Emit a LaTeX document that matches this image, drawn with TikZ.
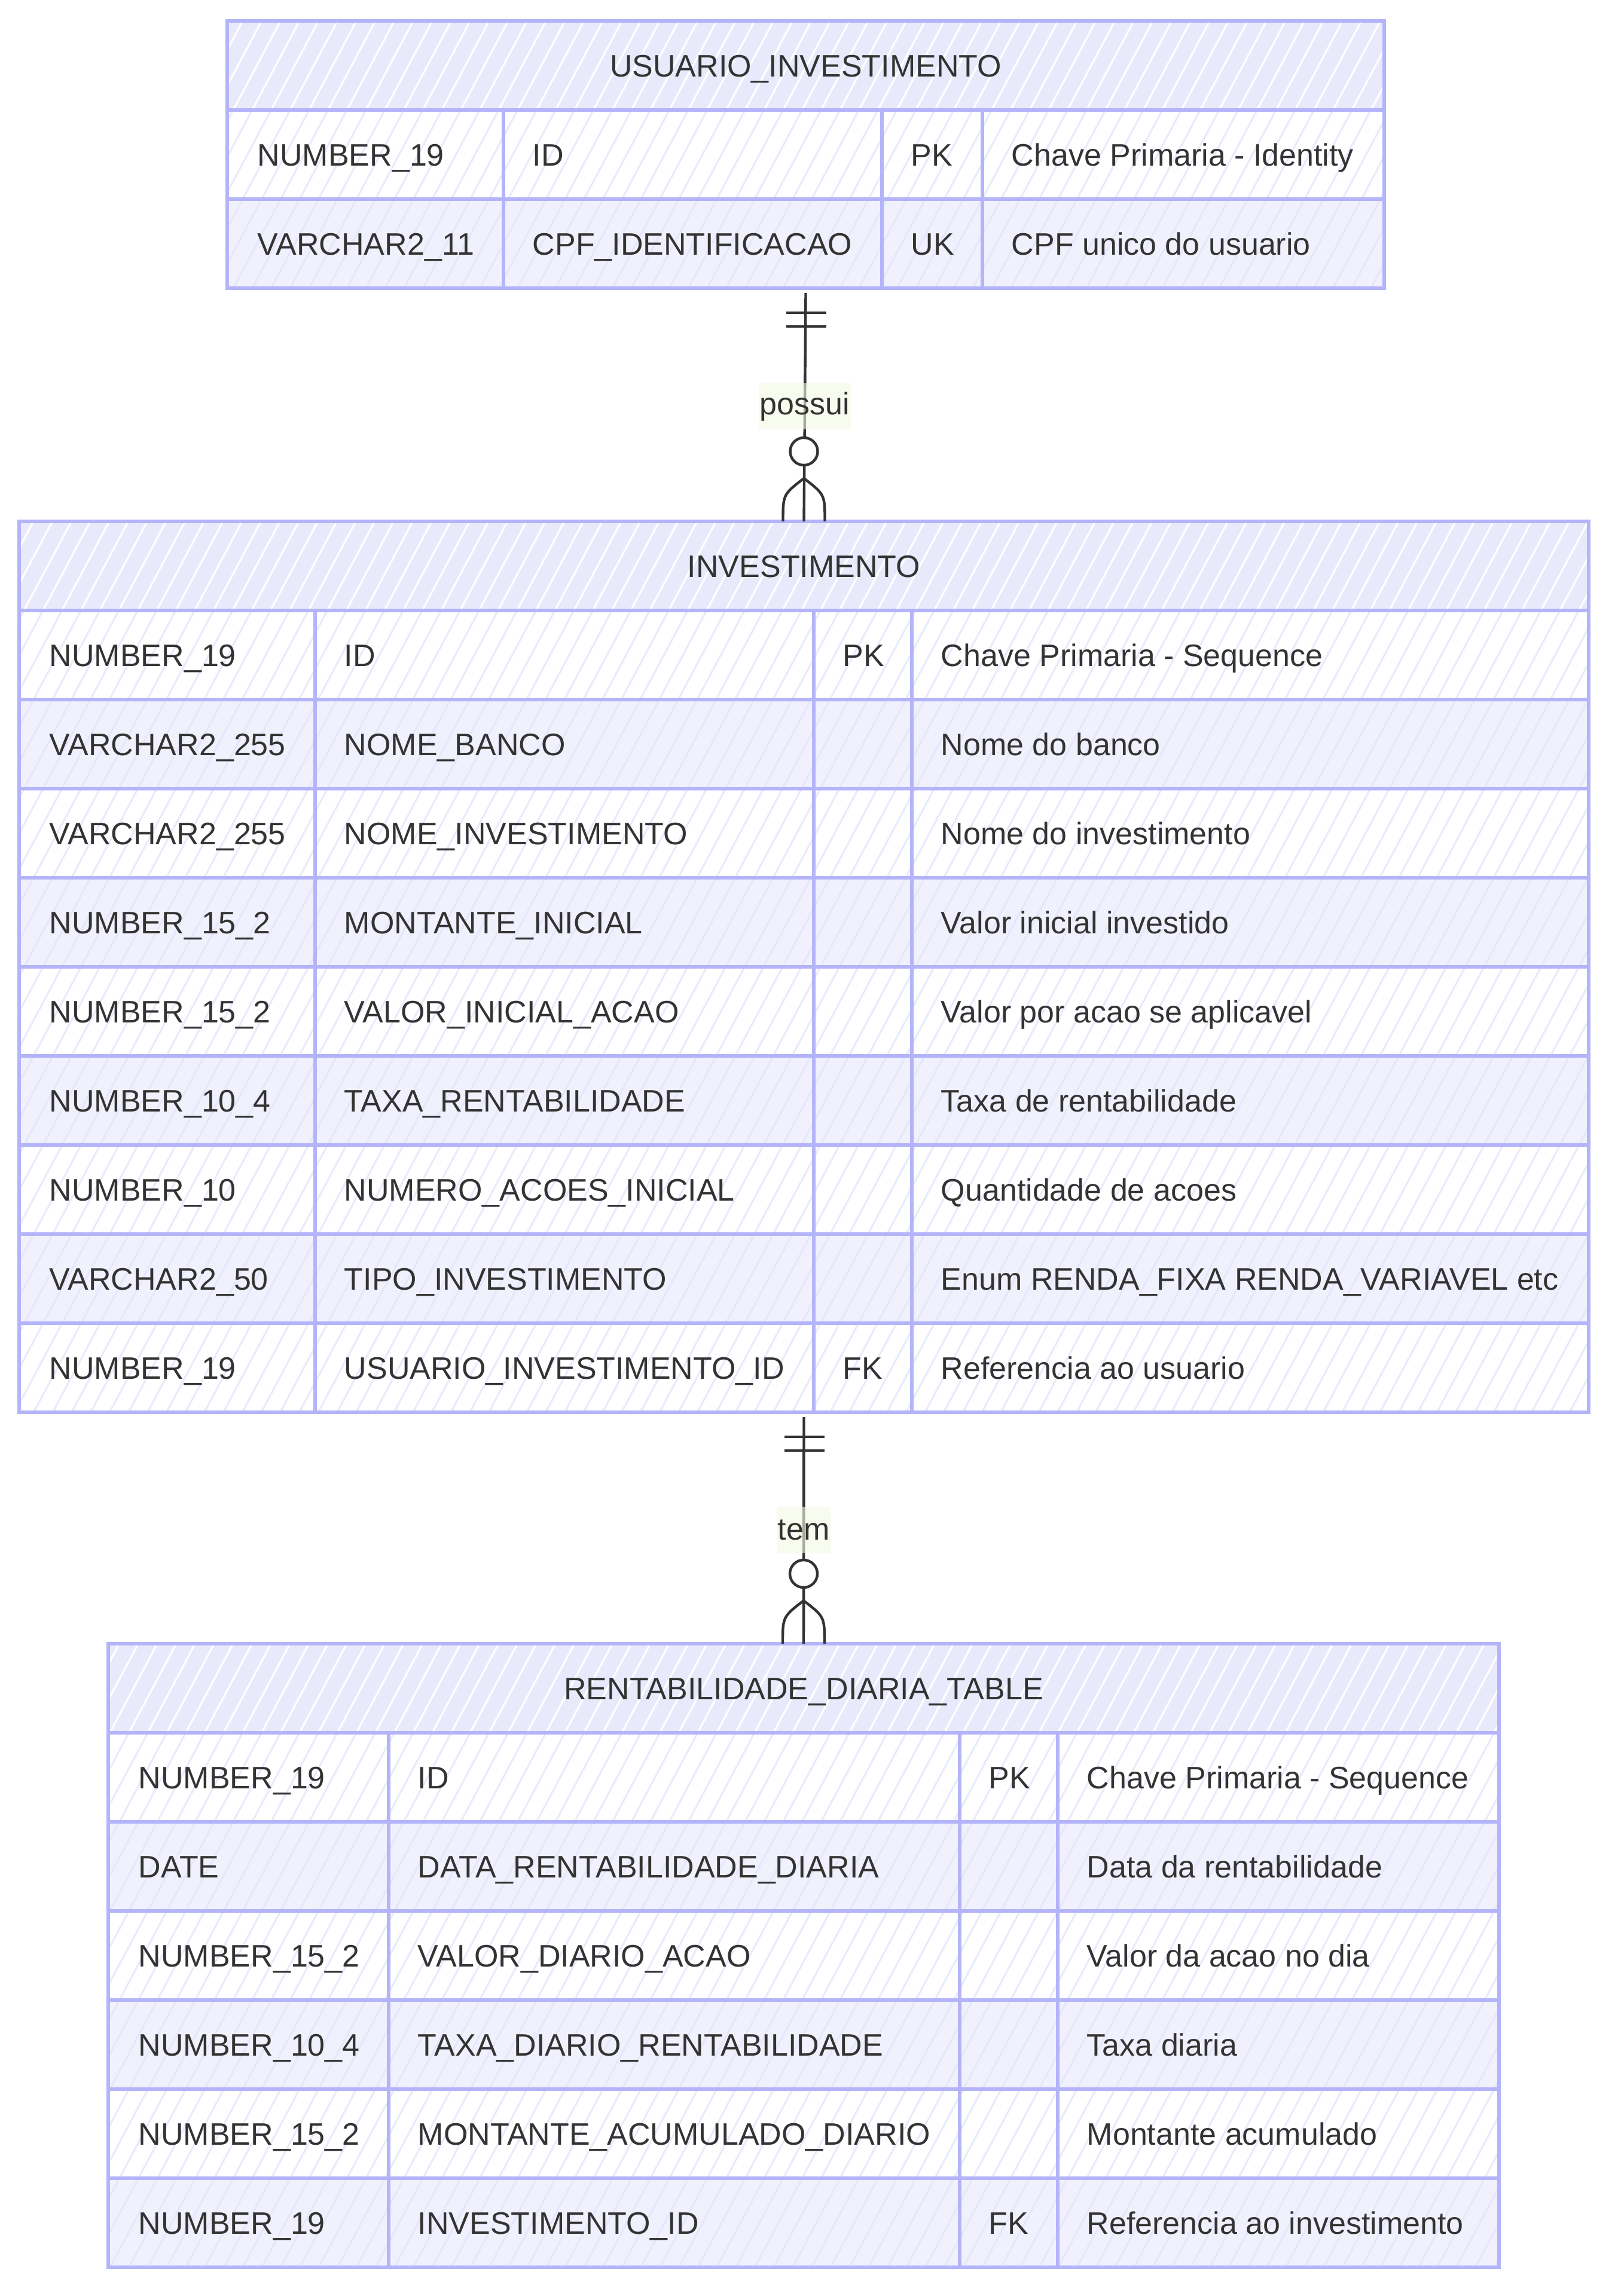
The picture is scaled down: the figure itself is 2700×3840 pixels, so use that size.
\documentclass[tikz,border=0pt]{standalone}
\usepackage{fontspec}
\setmainfont{Liberation Sans}
\usetikzlibrary{patterns.meta,calc}
\definecolor{bd}{RGB}{180,180,250}
\definecolor{hdr}{RGB}{233,233,252}
\definecolor{rowB}{RGB}{241,241,254}
\definecolor{hatchA}{RGB}{234,234,253}
\definecolor{hatchB}{RGB}{231,231,252}
\definecolor{txt}{RGB}{51,51,51}
\definecolor{lblbg}{RGB}{244,251,228}
\newcommand{\erfont}{\fontsize{13pt}{15pt}\selectfont}
\tikzset{
  x=0.25pt, y=-0.25pt,
  celltext/.style={anchor=base west, text=txt, font=\erfont, inner sep=0pt},
  titletext/.style={anchor=base, text=txt, font=\erfont, inner sep=0pt},
  gridline/.style={draw=bd, line width=1.5pt},
  hatchfill/.style={pattern={Lines[angle=62,distance=7pt,line width=0.8pt]}, pattern color=#1},
  rel/.style={draw=txt, line width=1.1pt},
  rellabel/.style={fill=lblbg, fill opacity=0.6, text opacity=1, text=txt, font=\erfont,
    inner xsep=0.4pt, inner ysep=0pt, minimum height=19.25pt},
  tablenode/.style={inner sep=0pt, outer sep=0pt, draw=none}
}
% #1 name, #2-#6 column x, #7 top y, #8 title, #9 rows
\newcommand{\ertable}[9]{%
  \path[fill=hdr] (#2,#7) rectangle (#6,#7+149);
  \path[hatchfill=white] (#2,#7) rectangle (#6,#7+149);
  \node[titletext] (#1-title) at ({(#2+#6)/2},{#7+93.5}) {#8};
  \foreach \ca/\cb/\cc/\cd [count=\i] in {#9} {
    \pgfmathsetmacro\yt{#7+\i*149}
    \pgfmathsetmacro\yb{\yt+149}
    \ifodd\i \def\rf{white}\def\hc{hatchA}\else\def\rf{rowB}\def\hc{hatchB}\fi
    \path[fill=\rf] (#2,\yt) rectangle (#6,\yb);
    \path[hatchfill=\hc] (#2,\yt) rectangle (#6,\yb);
    \draw[gridline] (#2,\yt) -- (#6,\yt);
    \node[celltext] (#1-\i-a) at (#2+50,\yt+93.5) {\ca};
    \node[celltext] (#1-\i-b) at (#3+48,\yt+93.5) {\cb};
    \node[celltext] (#1-\i-c) at (#4+48,\yt+93.5) {\cc};
    \node[celltext] (#1-\i-d) at (#5+48,\yt+93.5) {\cd};
    \xdef\lastbottom{\yb}
  }
  \draw[gridline] (#3,#7+149) -- (#3,\lastbottom);
  \draw[gridline] (#4,#7+149) -- (#4,\lastbottom);
  \draw[gridline] (#5,#7+149) -- (#5,\lastbottom);
  \draw[gridline] (#2,#7) rectangle (#6,\lastbottom);
  \pgfmathsetmacro\tw{(#6-#2)*0.25}
  \pgfmathsetmacro\th{(\lastbottom-#7)*0.25}
  \node[tablenode, minimum width=\tw pt, minimum height=\th pt] (#1) at ({(#2+#6)/2},{(#7+\lastbottom)/2}) {};
}
% #1 from, #2 to, #3 label, #4 label node name
\newcommand{\errel}[4]{%
  \draw[rel] ($(#1.south)+(0,8)$) coordinate (#4-start) -- (#2.north);
  \draw[rel] ($(#1.south)+(-33,41)$) -- ++(67,0);
  \draw[rel] ($(#1.south)+(-33,64)$) -- ++(67,0);
  \node[rellabel] (#4) at ($($(#1.south)!0.5!(#2.north)$)+(0,3)$) {#3};
  \draw[rel] ($(#2.north)+(0,-72)$) .. controls ($(#2.north)+(-35,-45)$) .. ($(#2.north)+(-35,0)$);
  \draw[rel] ($(#2.north)+(0,-72)$) .. controls ($(#2.north)+(35,-45)$) .. ($(#2.north)+(35,0)$);
  \draw[rel, fill=white] ($(#2.north)+(0,-117)$) circle[radius=23];
}
\begin{document}
\begin{tikzpicture}
\useasboundingbox (0,0) rectangle (2700,3840);
\fill[white] (0,0) rectangle (2700,3840);

\ertable{usr}{380}{842}{1475}{1643}{2315}{35}{USUARIO\_INVESTIMENTO}{%
NUMBER\_19/ID/PK/Chave Primaria - Identity,
VARCHAR2\_11/CPF\_IDENTIFICACAO/UK/CPF unico do usuario}

\ertable{inv}{32}{527}{1361}{1525}{2657}{872}{INVESTIMENTO}{%
NUMBER\_19/ID/PK/Chave Primaria - Sequence,
VARCHAR2\_255/NOME\_BANCO/{}/Nome do banco,
VARCHAR2\_255/NOME\_INVESTIMENTO/{}/Nome do investimento,
NUMBER\_15\_2/MONTANTE\_INICIAL/{}/Valor inicial investido,
NUMBER\_15\_2/VALOR\_INICIAL\_ACAO/{}/Valor por acao se aplicavel,
NUMBER\_10\_4/TAXA\_RENTABILIDADE/{}/Taxa de rentabilidade,
NUMBER\_10/NUMERO\_ACOES\_INICIAL/{}/Quantidade de acoes,
VARCHAR2\_50/TIPO\_INVESTIMENTO/{}/Enum RENDA\_FIXA RENDA\_VARIAVEL etc,
NUMBER\_19/USUARIO\_INVESTIMENTO\_ID/FK/Referencia ao usuario}

\ertable{rent}{181}{650}{1605}{1769}{2507}{2749}{RENTABILIDADE\_DIARIA\_TABLE}{%
NUMBER\_19/ID/PK/Chave Primaria - Sequence,
DATE/DATA\_RENTABILIDADE\_DIARIA/{}/Data da rentabilidade,
NUMBER\_15\_2/VALOR\_DIARIO\_ACAO/{}/Valor da acao no dia,
NUMBER\_10\_4/TAXA\_DIARIO\_RENTABILIDADE/{}/Taxa diaria,
NUMBER\_15\_2/MONTANTE\_ACUMULADO\_DIARIO/{}/Montante acumulado,
NUMBER\_19/INVESTIMENTO\_ID/FK/Referencia ao investimento}

\errel{usr}{inv}{possui}{possui}
\errel{inv}{rent}{tem}{tem}
\end{tikzpicture}
\end{document}
